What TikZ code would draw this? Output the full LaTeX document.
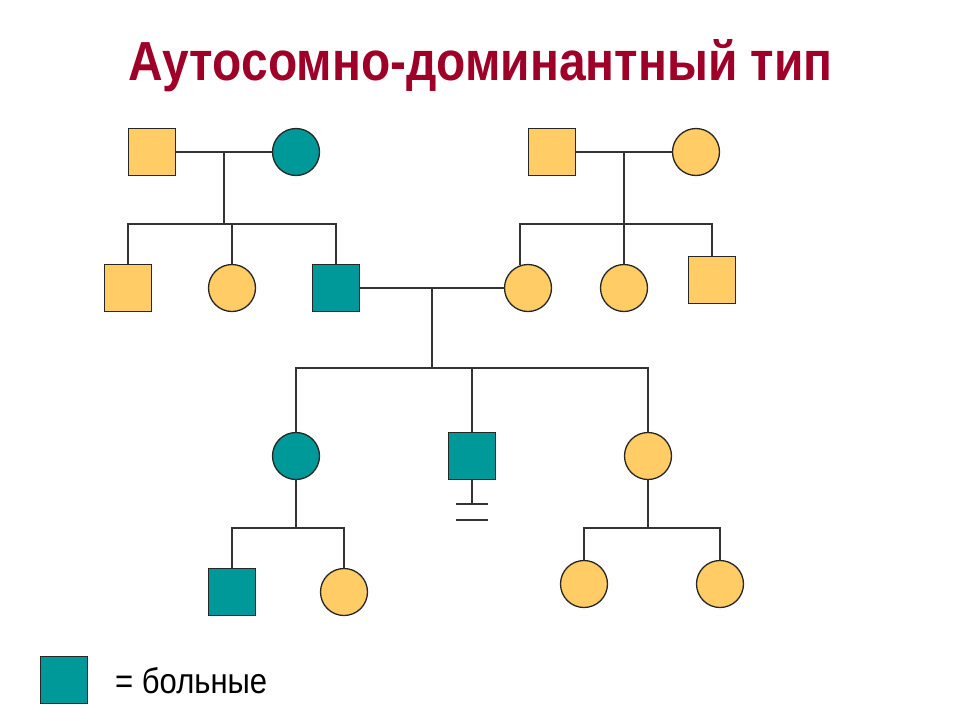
\documentclass[tikz,border=0pt]{standalone}
\usepackage{fontspec}
\setmainfont{Liberation Sans}
\definecolor{bolen}{RGB}{0,153,153}
\definecolor{zdorov}{RGB}{255,204,102}
\definecolor{zagl}{RGB}{158,0,40}
\tikzset{
    muzh/.style={rectangle, draw=black!85, line width=1.3pt, minimum size=47pt, inner sep=0pt},
    zhen/.style={circle, draw=black!85, line width=1.3pt, minimum size=47pt, inner sep=0pt},
    liniya/.style={draw=black!80, line width=1.5pt},
}
\begin{document}
\begin{tikzpicture}[x=1pt, y=-1pt]
    \useasboundingbox (0, 0) rectangle (960, 720);
    \node[anchor=base west, text=zagl, inner sep=0pt] (zag) at (128, 80)
        {\resizebox{704pt}{41pt}{\bfseries Аутосомно-доминантный тип}};
    % I поколение
    \node[muzh, fill=zdorov] (ded1) at (152, 152) {};
    \node[zhen, fill=bolen] (bab1) at (296, 152) {};
    \node[muzh, fill=zdorov] (ded2) at (552, 152) {};
    \node[zhen, fill=zdorov] (bab2) at (696, 152) {};
    % II поколение
    \node[muzh, fill=zdorov] (dyad1) at (128, 288) {};
    \node[zhen, fill=zdorov] (tet1) at (232, 288) {};
    \node[muzh, fill=bolen] (otec) at (336, 288) {};
    \node[zhen, fill=zdorov] (mat) at (528, 288) {};
    \node[zhen, fill=zdorov] (tet2) at (624, 288) {};
    \node[muzh, fill=zdorov] (dyad2) at (712, 280) {};
    % III поколение
    \node[zhen, fill=bolen] (doch1) at (296, 456) {};
    \node[muzh, fill=bolen] (syn) at (472, 456) {};
    \node[zhen, fill=zdorov] (doch2) at (648, 456) {};
    % IV поколение
    \node[muzh, fill=bolen] (vnuk) at (232, 592) {};
    \node[zhen, fill=zdorov] (vnuch1) at (344, 592) {};
    \node[zhen, fill=zdorov] (vnuch2) at (584, 584) {};
    \node[zhen, fill=zdorov] (vnuch3) at (720, 584) {};
    % точки ветвления
    \coordinate (br1) at (224, 152);
    \coordinate (sib1) at (224, 224);
    \coordinate (br2) at (624, 152);
    \coordinate (sib2) at (624, 224);
    \coordinate (br3) at (432, 288);
    \coordinate (sib3) at (432, 368);
    \coordinate (sib4) at (296, 528);
    \coordinate (sib5) at (648, 528);
    \coordinate (net) at (472, 504);
    % браки и потомки
    \draw[liniya] (ded1) -- (bab1);
    \draw[liniya] (br1) -- (sib1);
    \draw[liniya] (dyad1) |- (sib1) -| (otec);
    \draw[liniya] (tet1) -- (tet1 |- sib1);
    \draw[liniya] (ded2) -- (bab2);
    \draw[liniya] (br2) -- (sib2);
    \draw[liniya] (mat.109.3) |- (sib2) -| (dyad2);
    \draw[liniya] (sib2) -- (tet2);
    \draw[liniya] (otec) -- (mat);
    \draw[liniya] (br3) -- (sib3);
    \draw[liniya] (doch1) |- (sib3) -| (doch2);
    \draw[liniya] (syn) -- (syn |- sib3);
    \draw[liniya] (syn) -- (net); % нет потомства
    \draw[liniya] ([xshift=-16pt]net) -- ++(32, 0);
    \draw[liniya] ([shift={(-16, 16)}]net) -- ++(32, 0);
    \draw[liniya] (doch1) -- (sib4);
    \draw[liniya] (vnuk) |- (sib4) -| (vnuch1);
    \draw[liniya] (doch2) -- (sib5);
    \draw[liniya] (vnuch2) |- (sib5) -| (vnuch3);
    % обозначение
    \node[muzh, fill=bolen] (leg) at (64, 680) {};
    \node[anchor=base west, inner sep=0pt] (legtext) at (115, 693)
        {\resizebox{152pt}{26pt}{= больные}};
\end{tikzpicture}
\end{document}
